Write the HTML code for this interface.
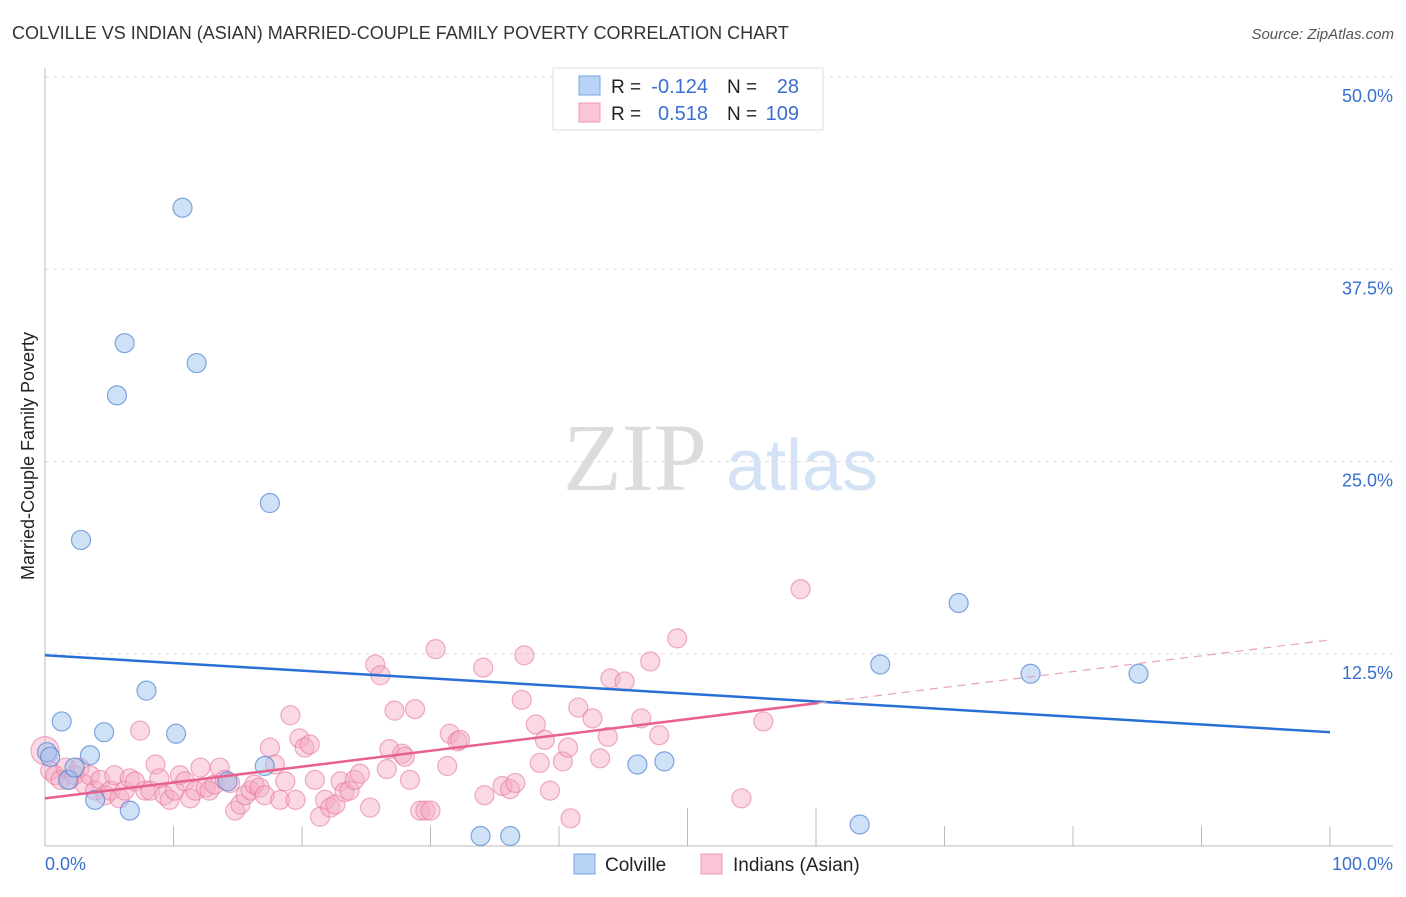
<!DOCTYPE html>
<html><head><meta charset="utf-8"><style>
body{margin:0;background:#fff;font-family:"Liberation Sans",sans-serif;}
</style></head><body>
<svg id="chart" width="1406" height="892" xmlns="http://www.w3.org/2000/svg">
<text x="12" y="39" font-size="18" fill="#333">COLVILLE VS INDIAN (ASIAN) MARRIED-COUPLE FAMILY POVERTY CORRELATION CHART</text>
<text x="1394" y="39" font-size="15" fill="#555" font-style="italic" text-anchor="end">Source: ZipAtlas.com</text>
<g>
<text x="635" y="490" font-size="96" fill="#dcdcdc" font-family="Liberation Serif,serif" text-anchor="middle">ZIP</text>
<text x="802" y="490" font-size="72" fill="#d4e2f5" text-anchor="middle">atlas</text>
</g>
<g id="grid"></g>
<g id="axes"></g>
<g id="pts"></g>
<g id="trends"></g>
<text transform="translate(34,456) rotate(-90)" font-size="18" fill="#222" text-anchor="middle">Married-Couple Family Poverty</text>
<g>
<rect x="553" y="68" width="270" height="62" fill="#fff" stroke="#ddd"/>
<rect x="579" y="76" width="21" height="19" fill="#b8d3f5" stroke="#7aa6e0"/>
<rect x="579" y="103" width="21" height="19" fill="#fbc5d5" stroke="#ee9ab4"/>
<text x="611" y="93" font-size="19" fill="#222">R =</text><text x="708" y="93" font-size="20" fill="#3a6fcf" text-anchor="end">-0.124</text>
<text x="727" y="93" font-size="19" fill="#222">N =</text><text x="799" y="93" font-size="20" fill="#3a6fcf" text-anchor="end">28</text>
<text x="611" y="120" font-size="19" fill="#222">R =</text><text x="708" y="120" font-size="20" fill="#3a6fcf" text-anchor="end">0.518</text>
<text x="727" y="120" font-size="19" fill="#222">N =</text><text x="799" y="120" font-size="20" fill="#3a6fcf" text-anchor="end">109</text>
</g>
<g>
<rect x="574" y="854" width="21" height="20" fill="#b8d3f5" stroke="#7aa6e0"/>
<text x="605" y="871" font-size="19" fill="#222">Colville</text>
<rect x="701" y="854" width="21" height="20" fill="#fbc5d5" stroke="#ee9ab4"/>
<text x="733" y="871" font-size="19" fill="#222">Indians (Asian)</text>
</g>
</svg>
<script>
const yTicks=[12.5,25,37.5,50];
const yTickLabels=["12.5%","25.0%","37.5%","50.0%"];
const xTickLabels=["0.0%","100.0%"];
const colvilleX=[0.16,0.4,1.3,1.8,2.3,2.8,3.5,3.9,4.6,5.6,6.2,6.6,7.9,10.2,10.7,11.8,14.2,17.1,17.5,33.9,36.2,46.1,48.2,63.4,65.0,71.1,76.7,85.1];
const colvilleY=[6.1,5.8,8.1,4.3,5.1,19.9,5.9,3.0,7.4,29.3,32.7,2.3,10.1,7.3,41.5,31.4,4.2,5.2,22.3,0.65,0.65,5.3,5.5,1.4,11.8,15.8,11.2,11.2];
const indianX=[0,0.4,0.8,1.2,1.6,1.9,2.3,2.7,3.1,3.5,3.9,4.3,4.7,5.1,5.4,5.8,6.2,6.6,7.0,7.4,7.8,8.2,8.6,8.9,9.3,9.7,10.1,10.5,10.9,11.3,11.7,12.1,12.5,12.8,13.2,13.6,14.0,14.4,14.8,15.2,15.6,16.0,16.3,16.7,17.1,17.5,17.9,18.3,18.7,19.1,19.5,19.8,20.2,20.6,21.0,21.4,21.8,22.2,22.6,23.0,23.3,23.7,24.1,24.5,25.3,25.7,26.1,26.6,26.8,27.2,27.8,28.0,28.4,28.8,29.2,29.6,30.0,30.4,31.3,31.5,32.1,32.3,34.1,34.2,35.6,36.2,36.6,37.1,37.3,38.2,38.5,38.9,39.3,40.3,40.7,40.9,41.5,42.6,43.2,43.8,44.0,45.1,46.4,47.1,47.8,49.2,54.2,55.9,58.8];
const indianY=[6.2,4.9,4.6,4.3,5.1,4.3,4.6,5.1,4.0,4.6,3.6,4.3,3.3,3.6,4.6,3.1,3.6,4.4,4.2,7.5,3.6,3.6,5.3,4.4,3.3,3.0,3.6,4.6,4.2,3.1,3.6,5.1,3.8,3.6,4.0,5.1,4.3,4.1,2.3,2.7,3.3,3.6,4.0,3.8,3.3,6.4,5.3,3.0,4.2,8.5,3.0,7.0,6.4,6.6,4.3,1.9,3.0,2.5,2.7,4.2,3.5,3.6,4.3,4.7,2.5,11.8,11.1,5.0,6.3,8.8,6.0,5.8,4.3,8.9,2.3,2.3,2.3,12.8,5.2,7.3,6.8,6.9,11.6,3.3,3.9,3.7,4.1,9.5,12.4,7.9,5.4,6.9,3.6,5.5,6.4,1.8,9.0,8.3,5.7,7.1,10.9,10.7,8.3,12.0,7.2,13.5,3.1,8.1,16.7];
const colvilleTrend=[12.4,7.4];
const indianTrend=[3.1,13.4];
const indianSolidEnd=60.2;
const NS="http://www.w3.org/2000/svg";
const X=v=>45+v*12.85, Y=v=>846-v*15.38;
function mk(t,a,p){const e=document.createElementNS(NS,t);for(const k in a)e.setAttribute(k,a[k]);document.getElementById(p).appendChild(e);return e;}
yTicks.forEach((t,i)=>{
 const l=mk('line',{x1:45,x2:1393,y1:Y(t),y2:Y(t),stroke:'#ddd','stroke-dasharray':'4,4'},'grid');
 
 
 const tx=mk('text',{x:1393,y:Y(t)+25,'font-size':18,fill:'#3a6fcf','text-anchor':'end'},'grid');
 tx.textContent=yTickLabels[i];
 
 
});
const ax=mk('line',{x1:45,x2:45,y1:68,y2:846,stroke:'#bbb'},'axes');


const bx=mk('line',{x1:45,x2:1393,y1:846,y2:846,stroke:'#bbb'},'axes');


for(let i=1;i<=10;i++){
 const tk=mk('line',{x1:X(i*10),x2:X(i*10),y1:(i==5||i==6)?808:826,y2:846,stroke:'#bbb'},'axes');
 
 
}
[[0,'start',45],[100,'end',1393]].forEach((d,i)=>{
 const t=mk('text',{x:d[2],y:870,'font-size':18,fill:'#3a6fcf','text-anchor':d[1]},'axes');
 t.textContent=xTickLabels[i];
 
 
});
indianX.forEach((x,i)=>{
 const c=mk('circle',{cx:X(x),cy:Y(indianY[i]),r:i==0?14:9.5,fill:'rgba(245,170,195,0.45)',stroke:'rgba(230,120,155,0.6)','stroke-width':1.2},'pts');
 
 
});
colvilleX.forEach((x,i)=>{
 const c=mk('circle',{cx:X(x),cy:Y(colvilleY[i]),r:9.5,fill:'rgba(160,195,240,0.5)',stroke:'rgba(80,130,210,0.7)','stroke-width':1.2},'pts');
 
 
});
const bt=mk('line',{x1:X(0),y1:Y(colvilleTrend[0]),x2:X(100),y2:Y(colvilleTrend[1]),stroke:'#2a6fd6','stroke-width':2.5},'trends');


const pe=indianTrend[0]+(indianTrend[1]-indianTrend[0])*indianSolidEnd/100;
const pt=mk('line',{x1:X(0),y1:Y(indianTrend[0]),x2:X(indianSolidEnd),y2:Y(pe),stroke:'#e8608c','stroke-width':2.5},'trends');


const pd=mk('line',{x1:X(indianSolidEnd),y1:Y(pe),x2:X(100),y2:Y(indianTrend[1]),stroke:'#e8a0b8','stroke-width':1.2,'stroke-dasharray':'8,6'},'trends');


</script>
</body></html>
